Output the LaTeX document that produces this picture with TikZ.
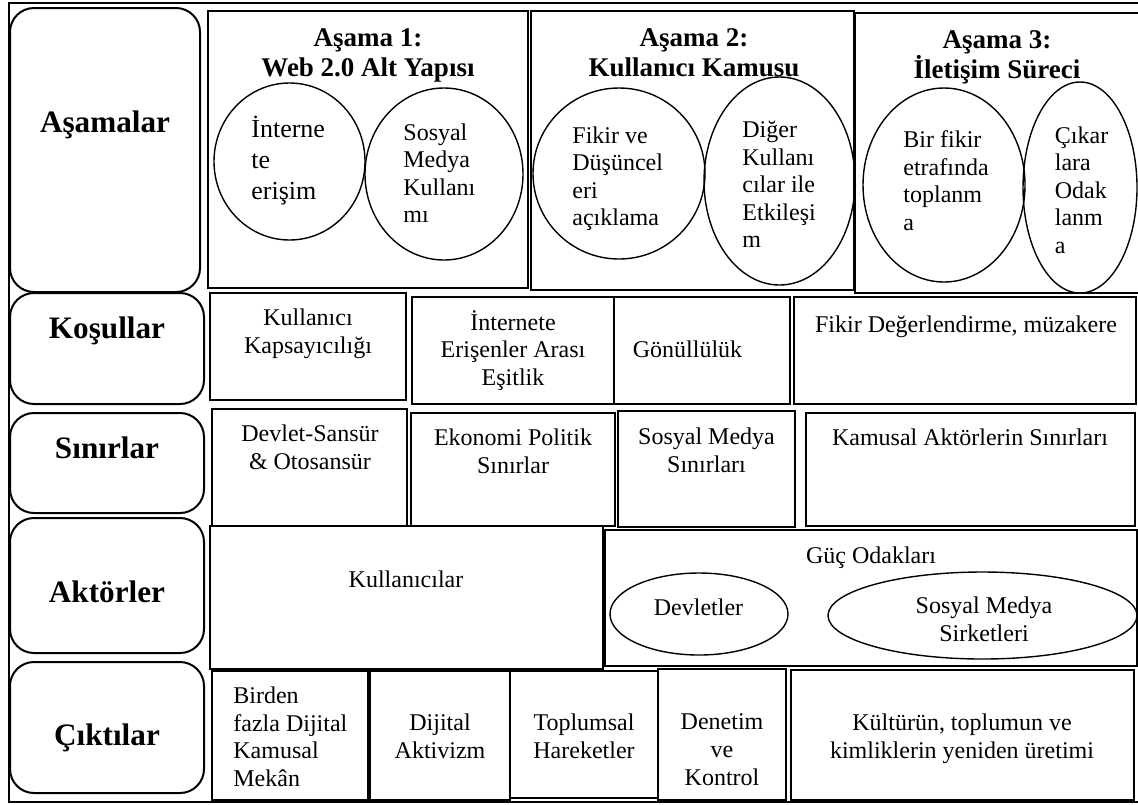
\documentclass[tikz,border=0pt]{standalone}
\usepackage{fontspec}
\setmainfont{Liberation Serif}

\begin{document}
\begin{tikzpicture}[
          x=0.5pt, y=-0.5pt,
          frame/.style={draw, line width=1pt},
          rowbox/.style={draw, line width=1pt, rounded corners=12pt},
          cell/.style={draw, line width=1pt},
          bubble/.style={draw, line width=0.7pt},
          rowlabel/.style={anchor=base, inner sep=0pt, font=\fontsize{15.6pt}{18pt}\selectfont\bfseries},
          head/.style={anchor=north, align=center, inner sep=0pt, font=\fontsize{13.5pt}{15pt}\selectfont\bfseries},
          txt/.style={anchor=north, align=center, inner sep=0pt, font=\fontsize{12pt}{13.8pt}\selectfont},
          ltxt/.style={txt, anchor=north west, align=left},
          btxt/.style={ltxt, font=\fontsize{12pt}{13.7pt}\selectfont},
          line/.style={anchor=base, inner sep=0pt, font=\fontsize{12pt}{13.8pt}\selectfont}
        ]
          \useasboundingbox (0,0) rectangle (1138,804);
          \draw[frame] (9,3) rectangle (1139,802);

          % left column
          \draw[rowbox] (10,8) rectangle (200,292);
          \draw[rowbox] (10,293) rectangle (204,404);
          \draw[rowbox] (10,413) rectangle (204,513);
          \draw[rowbox] (10,518) rectangle (204,653);
          \draw[rowbox] (10,662) rectangle (204,793);
          \node[rowlabel] (asamalar) at (105,132) {Aşamalar};
          \node[rowlabel] (kosullar) at (107,338) {Koşullar};
          \node[rowlabel] (sinirlar) at (107,458) {Sınırlar};
          \node[rowlabel] (aktorler) at (107,602) {Aktörler};
          \node[rowlabel] (ciktilar) at (107,745) {Çıktılar};

          % stages
          \draw[cell] (208,11) rectangle (528,288);
          \draw[cell] (531,11) rectangle (854,290);
          \draw[cell] (855,13) rectangle (1139,293);
          \node[head] (asama1) at (368,28.5) {Aşama 1:\\Web 2.0 Alt Yapısı};
          \node[head] (asama2) at (694,28.5) {Aşama 2:\\Kullanıcı Kamusu};
          \node[head] (asama3) at (997,30.5) {Aşama 3:\\İletişim Süreci};

          \draw[bubble] (289.5,161.5) ellipse [x radius=75.5, y radius=78.5];
          \draw[bubble] (444,174) ellipse [x radius=79, y radius=86];
          \draw[bubble] (619,173.5) ellipse [x radius=86, y radius=85.5];
          \draw[bubble] (779.5,181) ellipse [x radius=75.5, y radius=104];
          \draw[bubble] (944,185) ellipse [x radius=81, y radius=97];
          \draw[bubble] (1080,187.5) ellipse [x radius=57, y radius=105.5];
          \node[btxt, font=\fontsize{13pt}{15.5pt}\selectfont] (erisim) at (251,115.5) {İnterne\\te\\erişim};
          \node[btxt] (sosyal) at (403,123.5) {Sosyal\\Medya\\Kullanı\\mı};
          \node[btxt] (fikir) at (572,126.5) {Fikir ve\\Düşüncel\\eri\\açıklama};
          \node[btxt] (diger) at (742,121) {Diğer\\Kullanı\\cılar ile\\Etkileşi\\m};
          \node[btxt] (toplan) at (903,130.5) {Bir fikir\\etrafında\\toplanm\\a};
          \node[btxt] (cikar) at (1054.5,126.5) {Çıkar\\lara\\Odak\\lanm\\a};

          % conditions
          \draw[cell] (210,293) rectangle (406,400);
          \draw[cell] (412,297) rectangle (614,404);
          \draw[cell] (614,297) rectangle (790,404);
          \draw[cell] (794,297) rectangle (1136,404);
          \node[txt] (kapsam) at (308,308.5) {Kullanıcı\\Kapsayıcılığı};
          \node[txt] (esitlik) at (513,310) {İnternete\\Erişenler Arası\\Eşitlik};
          \node[line] (gonullu) at (687.5,357) {Gönüllülük};
          \node[line] (muzakere) at (966,332) {Fikir Değerlendirme, müzakere};

          % limits
          \draw[cell] (212,409) rectangle (407,526);
          \draw[cell] (411,413) rectangle (614.5,526);
          \draw[cell] (618,411) rectangle (795,527);
          \draw[cell] (806,413) rectangle (1134.5,526);
          \node[txt] (sansur) at (310,424.5) {Devlet-Sansür\\\& Otosansür};
          \node[txt] (ekonomi) at (513,428.5) {Ekonomi Politik\\Sınırlar};
          \node[txt] (medyasinir) at (706.5,427.5) {Sosyal Medya\\Sınırları};
          \node[line] (kamusal) at (970,445) {Kamusal Aktörlerin Sınırları};

          % actors
          \draw[cell] (210,526) rectangle (602.5,669);
          \draw[cell] (605,530) rectangle (1137,666);
          \draw[bubble] (699,614) ellipse [x radius=89, y radius=41];
          \draw[bubble] (982.5,615.5) ellipse [x radius=154.5, y radius=43.5];
          \node[line] (kullanicilar) at (406,587) {Kullanıcılar};
          \node[line] (guc) at (871,563) {Güç Odakları};
          \node[line] (devletler) at (698.5,615) {Devletler};
          \node[txt] (sirketler) at (984,596.5) {Sosyal Medya\\Sirketleri};

          % outputs
          \draw[cell] (212,671) rectangle (368,800);
          \draw[cell] (370,671) rectangle (510,800);
          \draw[cell] (510,671) rectangle (658,798);
          \draw[cell] (658,669) rectangle (786,800);
          \draw[cell] (790.5,670) rectangle (1133.5,800);
          \node[ltxt] (mekan) at (233,686.5) {Birden\\fazla Dijital\\Kamusal\\Mekân};
          \node[txt] (aktivizm) at (440,713.5) {Dijital\\Aktivizm};
          \node[txt] (hareket) at (584,713.5) {Toplumsal\\Hareketler};
          \node[txt] (denetim) at (722,713.5) {Denetim\\ve\\Kontrol};
          \node[txt] (kultur) at (962,713.5) {Kültürün, toplumun ve\\kimliklerin yeniden üretimi};
        \end{tikzpicture}
\end{document}
